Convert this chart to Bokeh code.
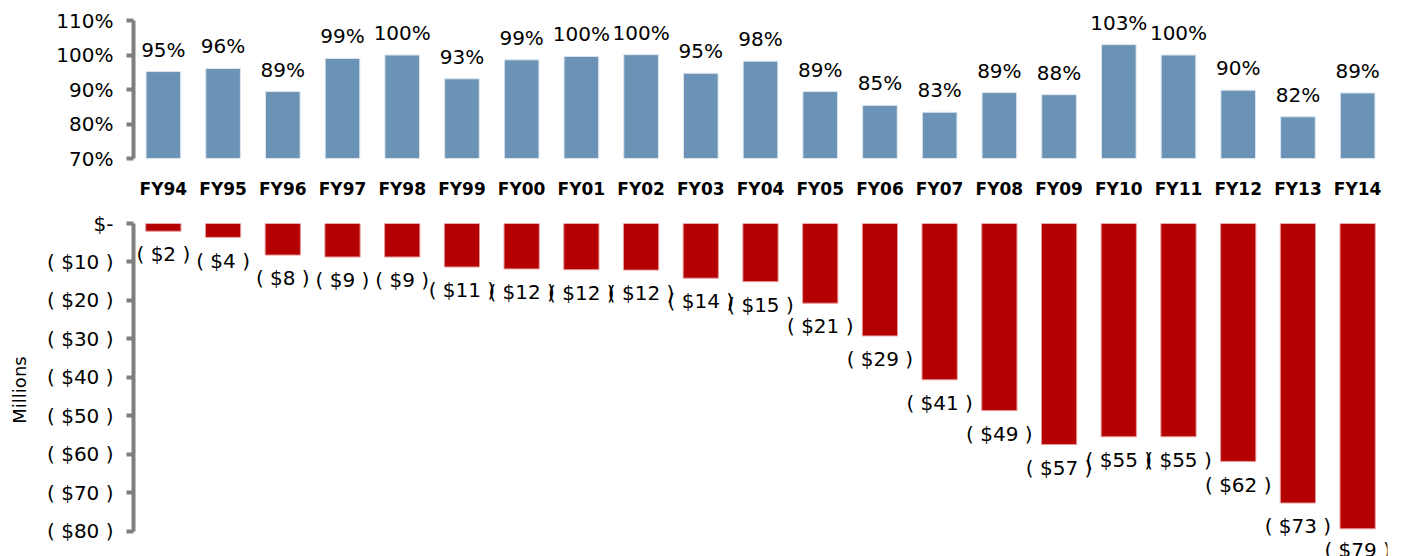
from bokeh.plotting import figure
from bokeh.layouts import column
from bokeh.models import FixedTicker, ColumnDataSource
from bokeh.core.properties import value
from bokeh.embed import file_html
from bokeh.resources import INLINE

years = ["FY94", "FY95", "FY96", "FY97", "FY98", "FY99", "FY00", "FY01", "FY02", "FY03", "FY04",
         "FY05", "FY06", "FY07", "FY08", "FY09", "FY10", "FY11", "FY12", "FY13", "FY14"]
ratio = [95.2, 96.1, 89.4, 99.0, 100.0, 93.1, 98.6, 99.6, 100.1, 94.7, 98.2,
         89.4, 85.4, 83.4, 89.1, 88.5, 103.0, 100.0, 89.8, 82.1, 89.0]
ratio_labels = ["95%", "96%", "89%", "99%", "100%", "93%", "99%", "100%", "100%", "95%", "98%",
                "89%", "85%", "83%", "89%", "88%", "103%", "100%", "90%", "82%", "89%"]
net_millions = [-2.0, -3.6, -8.2, -8.7, -8.7, -11.3, -11.8, -12.0, -12.1, -14.2, -15.1,
                -20.7, -29.2, -40.6, -48.6, -57.4, -55.4, -55.4, -61.8, -72.6, -79.3]
net_labels = ["( $2 )", "( $4 )", "( $8 )", "( $9 )", "( $9 )", "( $11 )", "( $12 )", "( $12 )",
              "( $12 )", "( $14 )", "( $15 )", "( $21 )", "( $29 )", "( $41 )", "( $49 )",
              "( $57 )", "( $55 )", "( $55 )", "( $62 )", "( $73 )", "( $79 )"]
ratio_ticks = [70, 80, 90, 100, 110]
money_ticks = [0, -10, -20, -30, -40, -50, -60, -70, -80]

FONT = "DejaVu Sans"
BLUE = "#6A93B5"
RED = "#B40000"
GRAY = "#7F7F7F"

# ---------- top panel ----------
src1 = ColumnDataSource(dict(x=years, top=ratio, lab=ratio_labels))
p1 = figure(x_range=years, y_range=(70, 112.9), width=1400, height=208,
            output_backend="svg", toolbar_location=None,
            min_border_left=127, min_border_right=13, min_border_top=10, min_border_bottom=50)
p1.vbar(x="x", top="top", bottom=70, width=0.58, source=src1,
        fill_color=BLUE, line_color="#DCE6EF", line_width=1)
p1.text(x="x", y="top", text="lab", source=src1, text_align="center", text_baseline="alphabetic",
        y_offset=-22, text_font=value(FONT), text_font_size="20px", text_color="#000000")

# ---------- bottom panel ----------
# label anchor: just below each bar end, kept inside the visible area (as in the original)
LOW_LIMIT = -81.6
lab_y = [max(v - 2.9, LOW_LIMIT) for v in net_millions]
src2 = ColumnDataSource(dict(x=years, top=net_millions, lab=net_labels, ly=lab_y))
p2 = figure(x_range=years, y_range=(-86.5, 0), width=1400, height=348,
            output_backend="svg", toolbar_location=None, x_axis_location=None,
            min_border_left=133, min_border_right=13, min_border_top=15, min_border_bottom=0)
p2.vbar(x="x", top=0, bottom="top", width=0.59, source=src2,
        fill_color=RED, line_color="#E89A9A", line_width=1)
p2.text(x="x", y="ly", text="lab", source=src2, text_align="center", text_baseline="top",
        text_font=value(FONT), text_font_size="20px", text_color="#000000")

for p in (p1, p2):
    p.outline_line_color = None
    p.xgrid.grid_line_color = None
    p.ygrid.grid_line_color = None
    p.x_range.range_padding = 0
    p.background_fill_color = "white"
    p.border_fill_color = "white"
    ax = p.yaxis[0]
    ax.axis_line_color = GRAY
    ax.axis_line_width = 4
    ax.major_tick_line_color = GRAY
    ax.major_tick_line_width = 4
    ax.major_tick_out = 7
    ax.major_tick_in = 0
    ax.minor_tick_line_color = None
    ax.major_label_text_font = FONT
    ax.major_label_text_font_size = "20px"
    ax.major_label_text_color = "#000000"
    ax.major_label_standoff = 13

p1.yaxis[0].ticker = FixedTicker(ticks=ratio_ticks)
p1.yaxis[0].bounds = (70, 110)
p1.yaxis[0].major_label_overrides = {t: f"{t}%" for t in ratio_ticks}

xa = p1.xaxis[0]
xa.axis_line_color = None
xa.major_tick_line_color = None
xa.major_tick_out = 0
xa.major_tick_in = 0
xa.minor_tick_line_color = None
xa.major_label_text_font = FONT
xa.major_label_text_font_style = "bold"
xa.major_label_text_font_size = "17px"
xa.major_label_text_color = "#000000"
xa.major_label_standoff = 20

ya = p2.yaxis[0]
ya.ticker = FixedTicker(ticks=money_ticks)
ya.bounds = (-80, 0)
ya.major_label_overrides = {t: ("$-" if t == 0 else f"( ${abs(t)} )") for t in money_ticks}
ya.axis_label = "Millions"
ya.axis_label_text_font = FONT
ya.axis_label_text_font_style = "normal"
ya.axis_label_text_font_size = "18px"
ya.axis_label_text_color = "#000000"
ya.axis_label_standoff = 14

layout = column(p1, p2, spacing=0)
open("out.html", "w").write(file_html(layout, INLINE))
